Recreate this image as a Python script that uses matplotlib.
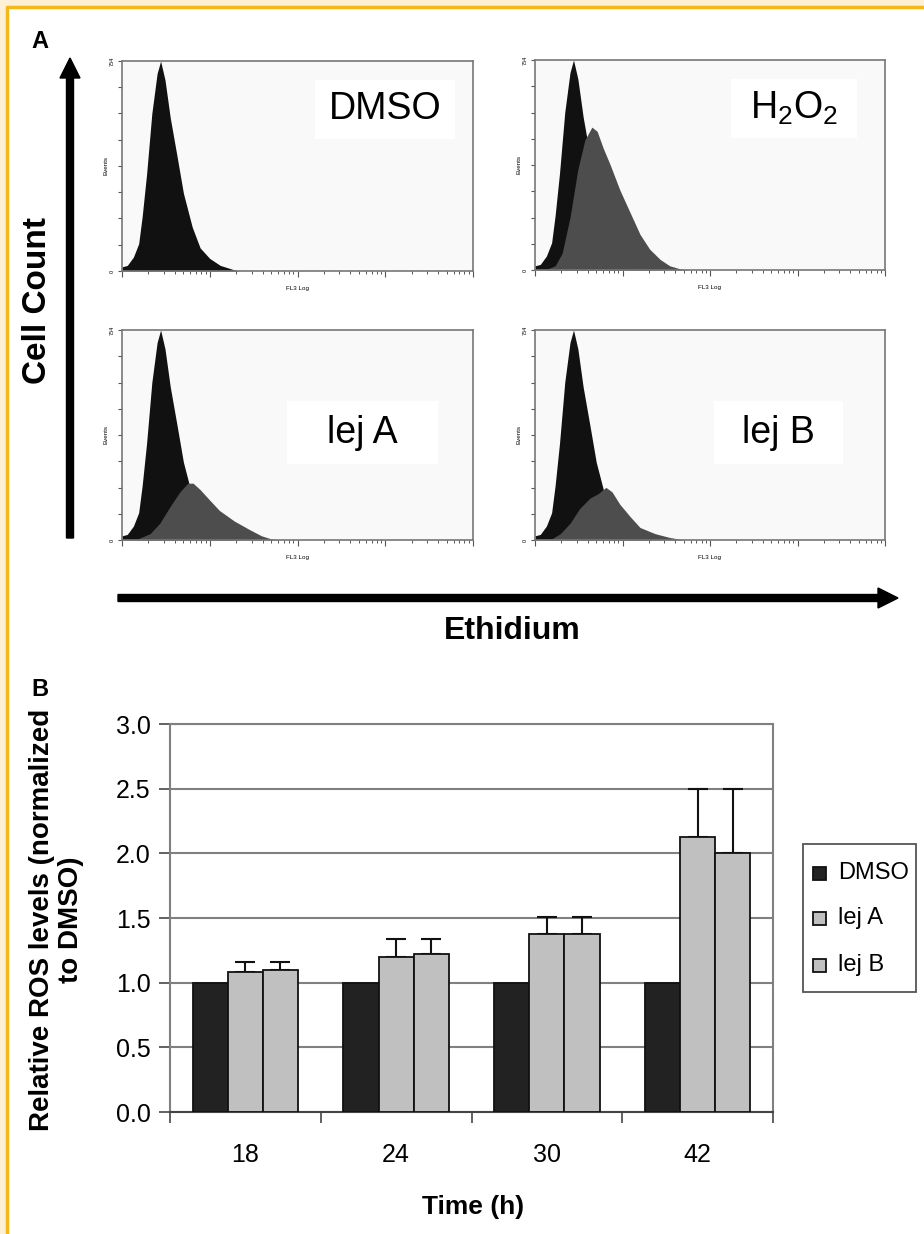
import matplotlib
matplotlib.use("Agg")
import matplotlib.pyplot as plt
from matplotlib.patches import Rectangle, FancyArrow
import numpy as np

plt.rcParams['font.family'] = ['Liberation Sans', 'DejaVu Sans']
plt.rcParams['mathtext.fontset'] = 'custom'
plt.rcParams['mathtext.rm'] = 'Liberation Sans'

W, H = 924, 1234

# ---- panel A: flow histograms (FL3 position in decades, events out of 754) ----
dmso_log = [0, 0.06, 0.13, 0.19, 0.23, 0.28, 0.34, 0.40, 0.44, 0.49, 0.55, 0.63,
            0.70, 0.80, 0.89, 1.0, 1.12, 1.27, 1.34]
dmso_cnt = [15, 20, 50, 98, 196, 347, 566, 709, 754, 686, 550, 407, 279, 158,
            83, 45, 20, 5, 0]

h2o2_log = [0.11, 0.23, 0.31, 0.40, 0.49, 0.57, 0.65, 0.71, 0.78, 0.86, 0.97,
            1.09, 1.20, 1.31, 1.43, 1.54, 1.66, 1.77]
h2o2_cnt = [0, 15, 60, 189, 362, 467, 513, 498, 437, 377, 287, 204, 128, 75,
            38, 15, 4, 0]

leja_log = [0.15, 0.32, 0.43, 0.55, 0.66, 0.75, 0.81, 0.89, 1.0, 1.11, 1.28,
            1.45, 1.59, 1.70, 1.80]
leja_cnt = [0, 23, 60, 121, 173, 204, 204, 181, 143, 106, 68, 38, 15, 4, 0]

lejb_log = [0.17, 0.29, 0.40, 0.51, 0.63, 0.72, 0.81, 0.88, 0.97, 1.09, 1.20,
            1.37, 1.54, 1.71]
lejb_cnt = [0, 23, 60, 113, 151, 166, 189, 173, 128, 83, 45, 23, 9, 0]

hist_panels = [
    ("DMSO", None, None),
    (r"H$_\mathrm{2}$O$_\mathrm{2}$", h2o2_log, h2o2_cnt),
    ("lej A", leja_log, leja_cnt),
    ("lej B", lejb_log, lejb_cnt),
]

# ---- panel B: ROS bar chart ----
times = ["18", "24", "30", "42"]
series = ["DMSO", "lej A", "lej B"]
dmso_ros = [1.0, 1.0, 1.0, 1.0]
leja_ros = [1.08, 1.20, 1.38, 2.13]
lejb_ros = [1.10, 1.22, 1.38, 2.00]
leja_err = [0.08, 0.14, 0.13, 0.37]
lejb_err = [0.06, 0.12, 0.13, 0.50]
bar_colors = ['#222222', '#c0c0c0', '#c0c0c0']


def px_axes(fig, x0, y0, x1, y1, **kw):
    return fig.add_axes([x0 / W, 1 - y1 / H, (x1 - x0) / W, (y1 - y0) / H], **kw)


fig = plt.figure(figsize=(W / 100, H / 100), dpi=100)

# background / page frame and free text, in pixel coordinates
bg = fig.add_axes([0, 0, 1, 1], zorder=-10)
bg.set_xlim(0, W)
bg.set_ylim(H, 0)
bg.axis('off')
bg.add_patch(Rectangle((0, 0), W, H, color='#fdf0d4', zorder=0))
bg.add_patch(Rectangle((8, 8), W, H, color='white', zorder=1))
bg.plot([7, 7, W], [H, 7, 7], color='#f2b81c', lw=2.5, zorder=2)

bg.text(40, 42, "A", fontsize=17, fontweight='bold', ha='center', va='center')
bg.text(40, 690, "B", fontsize=17, fontweight='bold', ha='center', va='center')

bg.add_patch(FancyArrow(70, 538, 0, -480, width=7, head_width=20, head_length=20,
                        length_includes_head=True, color='black', zorder=3))
bg.add_patch(FancyArrow(118, 598, 780, 0, width=7, head_width=20, head_length=20,
                        length_includes_head=True, color='black', zorder=3))
bg.text(38, 300, "Cell Count", rotation=90, fontsize=24, fontweight='bold',
        ha='center', va='center')
bg.text(512, 631, "Ethidium", fontsize=23, fontweight='bold', ha='center', va='center')

boxes = [(122, 61, 473, 271), (535, 60, 885, 270),
         (122, 330, 473, 540), (535, 330, 885, 540)]
label_boxes = [(0.55, 0.63, 0.40, 0.28), (0.56, 0.63, 0.36, 0.28),
               (0.47, 0.36, 0.43, 0.30), (0.51, 0.36, 0.37, 0.30)]

for (x0, y0, x1, y1), (name, lg, cnt), lb in zip(boxes, hist_panels, label_boxes):
    ax = px_axes(fig, x0, y0, x1, y1)
    ax.set_facecolor('#f9f9f9')
    ax.set_xscale('log')
    ax.set_xlim(1, 1e4)
    ax.set_ylim(0, 754)
    ax.fill_between(10 ** np.array(dmso_log), dmso_cnt, color='#111111', lw=0)
    if lg is not None:
        ax.fill_between(10 ** np.array(lg), cnt, color='#4d4d4d', lw=0)
    for s in ax.spines.values():
        s.set_color('#777777')
        s.set_linewidth(1.2)
    ax.set_yticks(np.linspace(0, 754, 9))
    ax.set_yticklabels(['0', '', '', '', '', '', '', '', '754'], rotation=90,
                       fontsize=4, va='center')
    ax.tick_params(axis='y', length=3, width=0.8, color='#555555', pad=2)
    ax.tick_params(axis='x', which='major', length=4, width=0.8, color='#555555')
    ax.tick_params(axis='x', which='minor', length=2.5, width=0.7, color='#555555')
    ax.set_xticklabels([])
    ax.set_xticklabels([], minor=True)
    ax.set_ylabel("Events", fontsize=4.5, labelpad=1)
    ax.set_xlabel("FL3 Log", fontsize=4.5, labelpad=3)
    bx, by, bw, bh = lb
    ax.add_patch(Rectangle((bx, by), bw, bh, transform=ax.transAxes,
                           facecolor='white', edgecolor='none', zorder=3))
    ax.text(bx + bw / 2, by + bh / 2, name, transform=ax.transAxes, fontsize=27,
            ha='center', va='center', zorder=4)

# ---- bar chart ----
bx = px_axes(fig, 170, 724, 773, 1112)
x = np.arange(len(times))
w = 0.233
for k, (vals, col) in enumerate(zip([dmso_ros, leja_ros, lejb_ros], bar_colors)):
    bx.bar(x + (k - 1) * w, vals, w, color=col, edgecolor='#111111', lw=1.3,
           zorder=3, label=series[k])
bx.errorbar(x, leja_ros, yerr=[np.zeros(4), leja_err], fmt='none', ecolor='#111111',
            elinewidth=1.5, capsize=7, capthick=1.5, zorder=2)
bx.errorbar(x + w, lejb_ros, yerr=[np.zeros(4), lejb_err], fmt='none', ecolor='#111111',
            elinewidth=1.5, capsize=7, capthick=1.5, zorder=2)

bx.set_xlim(-0.5, 3.5)
bx.set_ylim(0, 3.0)
yt = np.arange(0, 3.01, 0.5)
bx.set_yticks(yt)
bx.set_yticklabels([f"{v:.1f}" for v in yt], fontsize=18)
bx.yaxis.grid(True, color='#808080', lw=1.5, zorder=0)
bx.set_axisbelow(True)
bx.set_xticks(np.arange(-0.5, 3.6, 1))
bx.set_xticklabels([])
bx.set_xticks(x, minor=True)
bx.set_xticklabels(times, minor=True, fontsize=18)
bx.tick_params(axis='x', which='major', direction='out', length=8, width=1.3,
               color='#555555')
bx.tick_params(axis='x', which='minor', length=0, pad=22)
bx.tick_params(axis='y', direction='out', length=8, width=1.3, color='#555555', pad=6)
for s in bx.spines.values():
    s.set_color('#808080')
    s.set_linewidth(1.5)
bx.spines['bottom'].set_color('#444444')

bg.text(57, 920, "Relative ROS levels (normalized\nto DMSO)", rotation=90,
        fontsize=20, fontweight='bold', ha='center', va='center',
        multialignment='center', linespacing=1.15)
bg.text(473, 1207, "Time (h)", fontsize=19, fontweight='bold', ha='center', va='center')

# legend box drawn in page pixels
bg.add_patch(Rectangle((803, 844), 113, 148, facecolor='white', edgecolor='#555555',
                       lw=1.3, zorder=3))
for name, col, yy in zip(series, bar_colors, [873, 918, 965]):
    bg.add_patch(Rectangle((813, yy - 6.5), 13, 13, facecolor=col, edgecolor='#111111',
                           lw=1.3, zorder=4))
    bg.text(838, yy, name, fontsize=17, ha='left', va='center', zorder=4)

fig.savefig("out.png", dpi=100)
